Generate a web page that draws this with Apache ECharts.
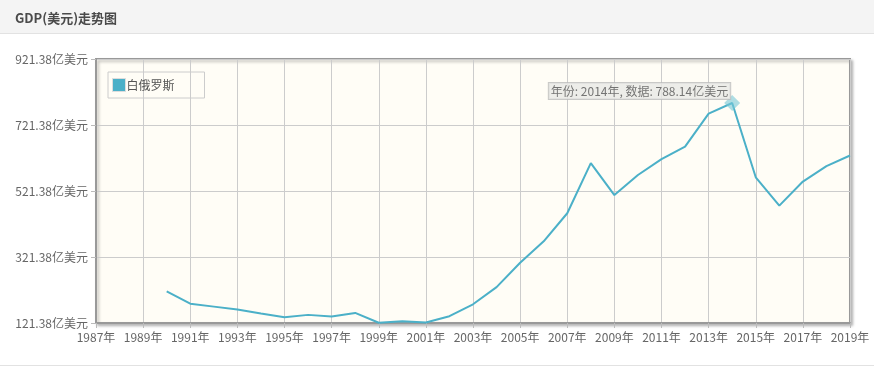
<!DOCTYPE html>
<html><head><meta charset="utf-8">
<script src="https://cdn.jsdelivr.net/npm/echarts@6/dist/echarts.min.js"></script>
<style>html,body{margin:0;padding:0;background:#fff}#c{width:874px;height:375px}</style>
</head><body><div id="c"></div>
<script>
var years = [];
for (var y = 1987; y <= 2019; y++) years.push(y + '年');
var seriesName = '白俄罗斯';
var gdp = [null, null, null,
  217, 180, 171, 162, 150, 139, 146, 141, 152, 122,
  127, 123, 142, 178, 230, 304, 369, 454, 606, 509,
  570, 618, 656, 756, 788.14, 563, 477, 550, 597, 629];
var yMin = 121.38, yMax = 921.38, yStep = 200;
var highlightYear = '2014年';
var highlightIndex = years.indexOf(highlightYear);

var chart = echarts.init(document.getElementById('c'));
var hlData = gdp.map(function (v, i) { return i === highlightIndex ? v : null; });
chart.setOption({
  animation: false,
  textStyle: { fontFamily: 'Noto Sans CJK SC, sans-serif' },
  graphic: [
    { type: 'rect', shape: { x: 0, y: 0, width: 874, height: 33 }, style: { fill: '#f4f4f4' }, silent: true, z: -10 },
    { type: 'rect', shape: { x: 0, y: 33, width: 874, height: 1 }, style: { fill: '#e2e2e2' }, silent: true, z: -10 },
    { type: 'rect', shape: { x: 0, y: 365, width: 874, height: 1 }, style: { fill: '#e2e2e2' }, silent: true, z: -10 }
  ],
  title: {
    text: 'GDP(美元)走势图', left: 10, top: 7,
    textStyle: { fontSize: 13, fontWeight: 'bold', color: '#4a4a4a', fontFamily: 'Noto Sans CJK SC, serif' }
  },
  legend: {
    data: [seriesName], left: 108, top: 72, orient: 'vertical',
    borderColor: '#ccc', borderWidth: 1, padding: [6, 30, 6, 4],
    icon: 'rect', itemWidth: 13, itemHeight: 13, itemGap: 4,
    textStyle: { color: '#555', fontSize: 12, padding: [0, 0, 0, -4] },
    itemStyle: { borderColor: '#ddd', borderWidth: 1 }
  },
  grid: {
    left: 96, right: 24, top: 59, bottom: 52, show: true,
    backgroundColor: '#fffdf6', borderColor: '#999', borderWidth: 2,
    shadowColor: 'rgba(0,0,0,0.25)', shadowBlur: 3, shadowOffsetX: 2, shadowOffsetY: 2
  },
  xAxis: {
    type: 'category', data: years, boundaryGap: false,
    axisLine: { lineStyle: { color: '#999', width: 2 } },
    axisTick: { interval: 1, length: 5, lineStyle: { color: '#bbb' } },
    axisLabel: { interval: 1, color: '#666', fontSize: 12, margin: 8 },
    splitLine: { show: true, interval: 1, lineStyle: { color: '#ccc' } }
  },
  yAxis: {
    type: 'value', min: yMin, max: yMax, interval: yStep,
    axisLine: { show: true, lineStyle: { color: '#999', width: 2 } },
    axisTick: { show: true, length: 5, lineStyle: { color: '#bbb' } },
    axisLabel: { color: '#666', fontSize: 12, margin: 8,
      formatter: function (v) { return v.toFixed(2) + '亿美元'; } },
    splitLine: { lineStyle: { color: '#ccc' } }
  },
  series: [{
    name: seriesName, type: 'line', data: gdp, showSymbol: false,
    symbol: 'none', connectNulls: false,
    lineStyle: { color: '#4bb0c8', width: 2 }, itemStyle: { color: '#4bb0c8' }
  }, {
    name: seriesName, type: 'scatter', data: hlData, symbol: 'diamond', symbolSize: 16,
    itemStyle: { color: 'rgba(120,200,215,0.75)' }, z: 5,
    label: {
      show: true, position: 'left', distance: 0, offset: [6, -12],
      formatter: function (p) { return '年份: ' + years[p.dataIndex] + ', 数据: ' + p.value + '亿美元'; },
      color: '#555', fontSize: 12,
      backgroundColor: '#e8e8e6', borderColor: '#bbb', borderWidth: 1, padding: [2, 2, 2, 2]
    }
  }]
});
</script></body></html>
